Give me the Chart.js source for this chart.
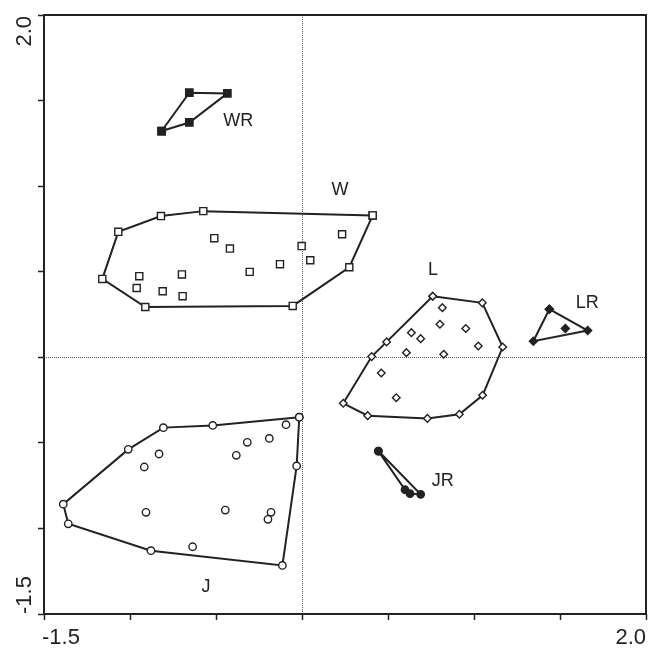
<!DOCTYPE html>
<html>
<head>
<meta charset="utf-8">
<script src="https://cdn.jsdelivr.net/npm/chart.js@4.4.0/dist/chart.umd.min.js"></script>
<style>
    html, body { margin: 0; padding: 0; background: #fff; }
</style>
</head>
<body>
<canvas id="ordinationChart" width="657" height="649"></canvas>
<script>
// 軸の範囲と目盛りラベル
const axisMin = -1.5;
const axisMax = 2.0;
const tickStep = 0.5;
const xTickLabels = ['-1.5', '2.0'];
const yTickLabels = ['-1.5', '2.0'];

// J (白丸) 外周と内部の点
const jHull = [[-0.016, -0.35], [-0.031, -0.635], [-0.114, -1.216], [-0.878, -1.13], [-1.359, -0.973],
    [-1.388, -0.858], [-1.01, -0.538], [-0.806, -0.411], [-0.519, -0.398]];
const jInner = [[-0.093, -0.394], [-0.19, -0.474], [-0.318, -0.497], [-0.382, -0.573], [-0.831, -0.565],
    [-0.917, -0.641], [-0.907, -0.906], [-0.446, -0.893], [-0.18, -0.906], [-0.198, -0.947], [-0.636, -1.107]];

// W (白四角)
const wHull = [[0.411, 0.829], [0.275, 0.526], [-0.054, 0.3], [-0.911, 0.294], [-1.161, 0.458],
    [-1.068, 0.733], [-0.82, 0.825], [-0.574, 0.854]];
const wInner = [[0.233, 0.719], [-0.002, 0.65], [0.048, 0.567], [-0.128, 0.544], [-0.304, 0.499],
    [-0.51, 0.696], [-0.419, 0.635], [-0.698, 0.484], [-0.946, 0.474], [-0.961, 0.405], [-0.81, 0.386], [-0.694, 0.357]];

// L (白ひし形)
const lHull = [[0.76, 0.357], [1.048, 0.318], [1.167, 0.06], [1.05, -0.222], [0.915, -0.333],
    [0.729, -0.357], [0.382, -0.341], [0.24, -0.269], [0.405, 0.004], [0.492, 0.09]];
const lInner = [[0.816, 0.29], [0.802, 0.193], [0.952, 0.168], [1.025, 0.066], [0.824, 0.018],
    [0.636, 0.144], [0.69, 0.109], [0.607, 0.027], [0.461, -0.092], [0.548, -0.236]];

// LR (黒ひし形)
const lrHull = [[1.438, 0.281], [1.661, 0.156], [1.345, 0.094]];
const lrInner = [[1.531, 0.168]];

// JR (黒丸)
const jrHull = [[0.444, -0.548], [0.599, -0.774], [0.628, -0.797], [0.69, -0.801]];

// WR (黒四角)
const wrHull = [[-0.816, 1.322], [-0.655, 1.546], [-0.434, 1.542], [-0.655, 1.372]];

// グループ名とラベル位置
const groupNames = ['WR', 'W', 'L', 'LR', 'JR', 'J'];
const labelX = [-0.37, 0.221, 0.762, 1.659, 0.818, -0.558];
const labelY = [1.382, 0.978, 0.509, 0.318, -0.723, -1.345];

const ink = '#222';

// [x, y] を chart.js の点に変換
function toPoints(list, close) {
    const pts = list.map(p => ({ x: p[0], y: p[1] }));
    if (close) pts.push({ x: list[0][0], y: list[0][1] });
    return pts;
}

function hullSet(list, style, radius, filled) {
    return {
        data: toPoints(list, true),
        showLine: true,
        borderColor: ink,
        borderWidth: 2,
        pointStyle: style,
        pointRadius: radius,
        pointBorderWidth: 1.4,
        pointBorderColor: ink,
        pointBackgroundColor: filled ? ink : '#fff'
    };
}

function innerSet(list, style, radius, filled) {
    return {
        data: toPoints(list, false),
        showLine: false,
        pointStyle: style,
        pointRadius: radius,
        pointBorderWidth: 1.4,
        pointBorderColor: ink,
        pointBackgroundColor: filled ? ink : '#fff'
    };
}

const datasets = [
    hullSet(jHull, 'circle', 3.7, false),
    innerSet(jInner, 'circle', 3.7, false),
    hullSet(wHull, 'rect', 5, false),
    innerSet(wInner, 'rect', 5, false),
    hullSet(lHull, 'rectRot', 3.8, false),
    innerSet(lInner, 'rectRot', 3.8, false),
    hullSet(lrHull, 'rectRot', 4, true),
    innerSet(lrInner, 'rectRot', 4, true),
    hullSet(jrHull, 'circle', 3.7, true),
    hullSet(wrHull, 'rect', 5.2, true)
];

// 枠・ゼロ線・ラベルを描くプラグイン
const framePlugin = {
    id: 'frame',
    beforeDatasetsDraw(chart) {
        const { ctx, chartArea: a, scales: { x, y } } = chart;
        const x0 = Math.round(x.getPixelForValue(0)) + 0.5;
        const y0 = Math.round(y.getPixelForValue(0)) + 0.5;
        ctx.save();
        ctx.strokeStyle = '#555';
        ctx.lineWidth = 1;
        ctx.setLineDash([1, 1]);
        ctx.beginPath();
        ctx.moveTo(x0, a.top);
        ctx.lineTo(x0, a.bottom);
        ctx.moveTo(a.left, y0);
        ctx.lineTo(a.right, y0);
        ctx.stroke();
        ctx.setLineDash([]);
        ctx.strokeStyle = ink;
        ctx.lineWidth = 2;
        ctx.strokeRect(a.left, a.top, a.right - a.left, a.bottom - a.top);
        ctx.restore();
    },
    afterDraw(chart) {
        const { ctx, scales: { x, y } } = chart;
        ctx.save();
        ctx.fillStyle = ink;
        // グループ名
        ctx.font = '18px "Liberation Sans", Arial, sans-serif';
        ctx.textAlign = 'center';
        ctx.textBaseline = 'middle';
        groupNames.forEach((name, i) => {
            ctx.fillText(name, x.getPixelForValue(labelX[i]), y.getPixelForValue(labelY[i]));
        });
        // x軸の目盛りラベル (内側寄せ)
        ctx.font = '22px "Liberation Sans", Arial, sans-serif';
        ctx.textBaseline = 'alphabetic';
        ctx.textAlign = 'left';
        ctx.fillText(xTickLabels[0], x.getPixelForValue(axisMin) - 2, 644);
        ctx.textAlign = 'right';
        ctx.fillText(xTickLabels[1], x.getPixelForValue(axisMax), 644);
        // y軸の目盛りラベル (縦書き)
        ctx.translate(31, 0);
        ctx.rotate(-Math.PI / 2);
        ctx.textAlign = 'left';
        ctx.fillText(yTickLabels[0], -y.getPixelForValue(axisMin), 0);
        ctx.textAlign = 'right';
        ctx.fillText(yTickLabels[1], -y.getPixelForValue(axisMax) - 1, 0);
        ctx.restore();
    }
};

const context = document.getElementById('ordinationChart').getContext('2d');
new Chart(context, {
    type: 'scatter',
    data: { datasets },
    options: {
        responsive: false,
        animation: false,
        layout: { padding: { top: 15, right: 11, left: 0, bottom: 0 } },
        plugins: {
            legend: { display: false },
            tooltip: { enabled: false }
        },
        scales: {
            x: {
                min: axisMin,
                max: axisMax,
                ticks: { stepSize: tickStep, display: false },
                grid: { drawOnChartArea: false, drawTicks: true, tickLength: 6, tickColor: ink, tickWidth: 1.5 },
                border: { display: false },
                afterFit(scale) { scale.height = 35; }
            },
            y: {
                min: axisMin,
                max: axisMax,
                ticks: { stepSize: tickStep, display: false },
                grid: { drawOnChartArea: false, drawTicks: true, tickLength: 6, tickColor: ink, tickWidth: 1.5 },
                border: { display: false },
                afterFit(scale) { scale.width = 44; }
            }
        }
    },
    plugins: [framePlugin]
});
</script>
</body>
</html>
